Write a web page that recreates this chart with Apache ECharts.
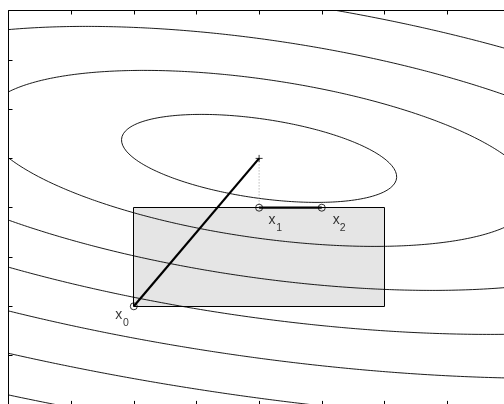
<!DOCTYPE html>
<html>
<head>
<meta charset="utf-8">
<script src="https://cdn.jsdelivr.net/npm/echarts@6/dist/echarts.min.js"></script>
<style>html,body{margin:0;padding:0;background:#fff;}#c{width:504px;height:404px;}</style>
</head>
<body>
<div id="c"></div>
<script>
// ---- data ----
const axisMin = 0, axisMax = 8, tickStep = 1;
const center = [4, 5];                       // unconstrained minimiser (+)
const quadForm = [0.2514, 0.2589, 1.522];   // a, b, c of (d)^T [[a,b],[b,c]] (d)
const levels = [1, 4, 9, 16, 25, 36, 49];   // contour levels
const boxLow = [2, 2];
const boxHigh = [6, 4];
const iterNames = ['0', '1', '2'];
const iterates = [[2, 2], [4, 4], [5, 4]];
const firstStep = [[2, 2], [4, 5]];
const projection = [[4, 5], [4, 4]];
const secondStep = [[4, 4], [5, 4]];
const frameCorners = [[axisMin, axisMin], [axisMin, axisMax], [axisMax, axisMax], [axisMax, axisMin], [axisMin, axisMin]];

// ---- contour curves from the quadratic form ----
function ellipse(L) {
  const pts = [];
  const n = 720;
  for (let i = 0; i <= n; i++) {
    const t = 2 * Math.PI * i / n;
    const c = Math.cos(t), s = Math.sin(t);
    const q = quadForm[0] * c * c + 2 * quadForm[1] * c * s + quadForm[2] * s * s;
    const r = Math.sqrt(L / q);
    pts.push([center[0] + r * c, center[1] + r * s]);
  }
  return pts;
}

const FONT = 'Liberation Sans, Arial, Helvetica, sans-serif';
const labelOffsetsX = [[-15, 9], [13, 12.5], [14.5, 12.5]];
const labelOffsetsSub = [[-8, 17], [20, 20.5], [21, 20.5]];

const series = [];
series.push({
  type: 'custom', z: 1, silent: true,
  data: [[boxLow[0], boxLow[1], boxHigh[0], boxHigh[1]]],
  renderItem: function (params, api) {
    const p1 = api.coord([api.value(0), api.value(3)]);
    const p2 = api.coord([api.value(2), api.value(1)]);
    return {
      type: 'rect',
      shape: { x: Math.floor(p1[0]) + 0.5, y: Math.floor(p1[1]) + 0.5, width: Math.round(p2[0] - p1[0]), height: Math.round(p2[1] - p1[1]) },
      style: { fill: '#e5e5e5', stroke: '#000', lineWidth: 1 }
    };
  }
});
levels.forEach(function (L) {
  series.push({
    type: 'line', z: 2, data: ellipse(L), showSymbol: false, symbol: 'none',
    lineStyle: { color: '#000', width: 0.9 }, silent: true, clip: true
  });
});
series.push({ type: 'line', z: 4, data: firstStep, symbol: 'none', lineStyle: { color: '#000', width: 2.2 } });
series.push({ type: 'line', z: 3, data: projection, symbol: 'none', lineStyle: { color: '#999', width: 1, type: [1, 2] } });
series.push({ type: 'line', z: 4, data: secondStep, symbol: 'none', lineStyle: { color: '#000', width: 2.2 } });
series.push({
  type: 'scatter', z: 5, data: [center], symbol: 'path://M5,0L5,10M0,5L10,5', symbolSize: 7,
  itemStyle: { color: 'none', borderColor: '#000', borderWidth: 1 }
});
series.push({
  type: 'scatter', z: 6, symbol: 'circle', symbolSize: 7,
  itemStyle: { color: 'rgba(0,0,0,0)', borderColor: '#000', borderWidth: 1 },
  data: iterates.map(function (p, i) {
    return { value: p, name: iterNames[i] };
  })
});
series.push({
  type: 'scatter', z: 7, symbolSize: 1, silent: true,
  itemStyle: { color: 'rgba(0,0,0,0)' },
  data: iterates.map(function (p, i) {
    return { value: p, name: iterNames[i], label: { offset: labelOffsetsX[i] } };
  }),
  label: { show: true, position: 'inside', formatter: 'x', color: '#000', fontSize: 14, fontFamily: FONT }
});
series.push({
  type: 'scatter', z: 7, symbolSize: 1, silent: true,
  itemStyle: { color: 'rgba(0,0,0,0)' },
  data: iterates.map(function (p, i) {
    return { value: p, name: iterNames[i], label: { offset: labelOffsetsSub[i] } };
  }),
  label: { show: true, position: 'inside', formatter: '{b}', color: '#000', fontSize: 10.5, fontFamily: FONT }
});
// axes box frame drawn as a line series through the axis scales
series.push({
  type: 'line', z: 10, data: frameCorners, symbol: 'none', silent: true, clip: false,
  lineStyle: { color: '#000', width: 1 }
});

function axis(pos) {
  return {
    type: 'value', position: pos, min: axisMin, max: axisMax, interval: tickStep,
    axisLine: { show: false, onZero: false },
    axisTick: { show: true, inside: true, length: 4, lineStyle: { color: '#000', width: 1 } },
    axisLabel: { show: false }, splitLine: { show: false }
  };
}

const chart = echarts.init(document.getElementById('c'), null, { renderer: 'canvas' });
chart.setOption({
  animation: false,
  backgroundColor: '#fff',
  grid: { left: 8.5, top: 10.5, width: 501.2, height: 394.4, outerBoundsMode: 'none' },
  xAxis: [axis('bottom'), axis('top')],
  yAxis: [axis('left'), axis('right')],
  series: series
});
</script>
</body>
</html>
